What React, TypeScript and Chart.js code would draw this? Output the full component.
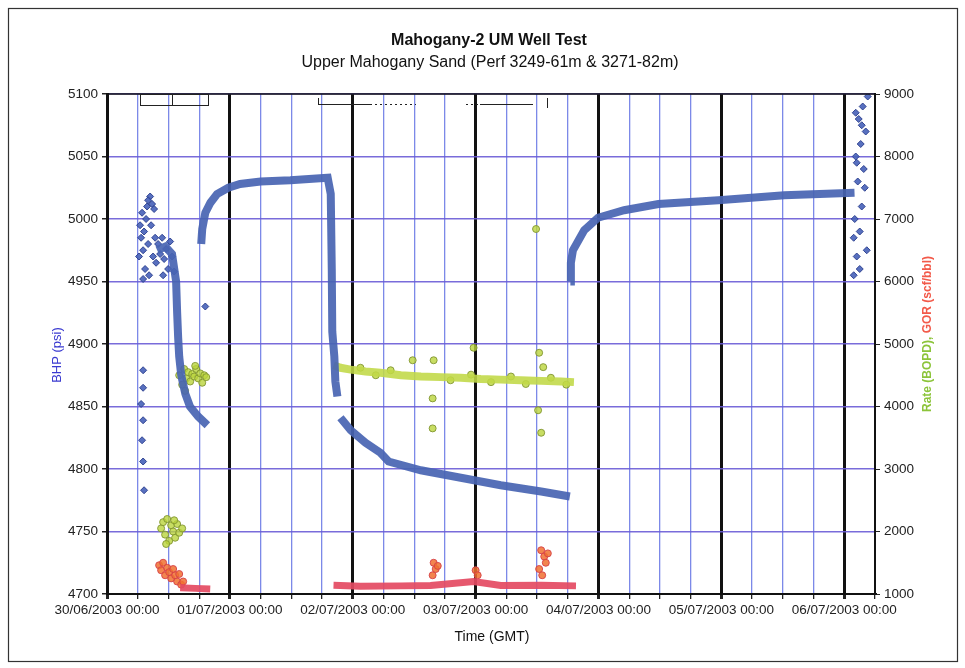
import React, { useEffect, useRef } from "react";
import { Chart, registerables } from "chart.js";

Chart.register(...registerables);

// Time axis: hours since 30/06/2003 00:00 (GMT)
const dayTickLabels = [
  "30/06/2003 00:00",
  "01/07/2003 00:00",
  "02/07/2003 00:00",
  "03/07/2003 00:00",
  "04/07/2003 00:00",
  "05/07/2003 00:00",
  "06/07/2003 00:00",
];

// Bottom-hole pressure trace (psi); null breaks the trace between periods
const bhpTrackHours = [
  9.8, 11.4, 12.7, 13.5, 13.7, 13.9, 14.1, 14.5, 15.3, 16.2, 17.8, 19.6, 19.7,
  18.4, 18.6, 19.2, 20.2, 21.5, 23.7, 26.0, 30.0, 35.8, 43.1, 43.7, 43.9, 44.0, 44.4, 44.6, 45.0, 45.1,
  45.6, 47.6, 50.5, 53.4, 55.0, 61.3, 69.1, 76.9, 84.8, 90.4, 90.45,
  90.5, 90.6, 91.0, 93.2, 95.9, 101.0, 107.7, 119.4, 132.3, 146.0,
];
const bhpTrackPsi = [
  4975, 4978, 4972, 4950, 4925, 4905, 4890, 4875, 4860, 4850, 4842, 4835, null,
  4980, 4992, 5005, 5013, 5020, 5025, 5028, 5030, 5031, 5033, 5020, 4960, 4910, 4890, 4870, 4858, null,
  4841, 4831, 4821, 4813, 4806, 4799, 4793, 4787, 4782, 4778, null,
  4950, 4965, 4975, 4991, 5001, 5007, 5012, 5015, 5019, 5021,
];

// Individual gauge readings (psi)
const bhpPointHours = [
  6.26, 6.46, 6.66, 6.85, 7.05, 7.24, 7.44, 7.63, 7.83, 8.03, 8.22, 8.42, 8.61, 8.81, 9.0, 9.2, 9.4, 9.59, 7.05, 8.03,
  9.98, 10.38, 10.77, 11.16, 11.55, 11.94, 12.33, 12.72, 13.12, 10.96,
  7.05, 7.05, 6.66, 7.05, 6.85, 7.05, 7.24,
  19.2,
  145.84, 146.43, 147.02, 146.04, 147.41, 146.63, 147.8, 146.24, 147.21, 148.19, 146.82, 147.6, 148.58, 145.84, 148.0, 146.43, 148.39, 147.02, 147.41, 146.24,
];
const bhpPointPsi = [
  4970, 4995, 4985, 5005, 4975, 4990, 4960, 5000, 5010, 4980, 4955, 5018, 4995, 5012, 4970, 5008, 4985, 4965, 4952, 5015,
  4980, 4972, 4985, 4968, 4976, 4960, 4982, 4970, 4958, 4955,
  4879, 4865, 4852, 4839, 4823, 4806, 4783,
  4930,
  4955, 4970, 4990, 5000, 5010, 5030, 5040, 5050, 5060, 5070, 5080, 5090, 5098, 4985, 5025, 5045, 4975, 4960, 5075, 5085,
];

// Oil rate (BOPD)
const rateTrackHours = [44.24, 45.6, 47.6, 50.5, 53.4, 57.4, 61.3, 65.2, 69.1, 73.0, 76.9, 80.8, 84.8, 88.7, 91.2];
const rateTrackBopd = [4660, 4620, 4590, 4560, 4540, 4500, 4480, 4470, 4460, 4440, 4430, 4420, 4410, 4400, 4390];

const ratePointHours = [
  10.57, 10.96, 11.35, 11.75, 12.14, 12.53, 12.92, 13.31, 13.7, 14.1, 14.68, 11.55, 13.12,
  14.1, 14.68, 15.07, 15.47, 15.86, 16.25, 16.64, 17.03, 17.42, 17.81, 18.21, 18.6, 18.99, 19.38, 15.27, 17.23,
  59.7, 63.8, 63.6, 63.6, 71.6, 84.4, 85.2, 84.2, 84.8, 83.8,
  49.5, 52.5, 55.4, 67.1, 71.1, 75.0, 78.9, 81.8, 86.7, 89.7,
];
const ratePointBopd = [
  2050, 2150, 1950, 2200, 1850, 2100, 2000, 1900, 2120, 1980, 2050, 1800, 2180,
  4500, 4350, 4600, 4450, 4550, 4400, 4520, 4480, 4600, 4450, 4530, 4380, 4500, 4470, 4250, 4650,
  4740, 4740, 4130, 3650, 4940, 4860, 4630, 3940, 3580, 6840,
  4620, 4500, 4580, 4420, 4510, 4390, 4480, 4360, 4460, 4350,
];

// Gas-oil ratio (scf/bbl)
const gorTrackHours = [14.29, 17.23, 20.16, null, 44.24, 49.5, 57.4, 63.2, 71.6, 76.9, 84.8, 91.6];
const gorTrackScf = [1100, 1090, 1080, null, 1140, 1125, 1130, 1135, 1200, 1135, 1140, 1130];

const gorPointHours = [
  10.18, 10.57, 10.96, 11.35, 11.75, 12.14, 12.53, 12.92, 13.31, 13.7, 14.1, 14.49, 14.88,
  63.6, 63.8, 64.2, 64.6, 72.0, 72.4, 84.4, 84.8, 85.0, 85.4, 85.7, 86.1,
];
const gorPointScf = [
  1460, 1380, 1500, 1300, 1420, 1350, 1250, 1400, 1300, 1200, 1320, 1150, 1200,
  1300, 1500, 1400, 1450, 1380, 1300, 1400, 1700, 1300, 1600, 1500, 1650,
];

const toXY = (xs: (number | null)[], ys: (number | null)[]) =>
  xs.map((x, i) => ({ x: x as number, y: ys[i] as number }));

const FONT = "'Liberation Sans', Arial, sans-serif";

const decorPlugin = {
  id: "decor",
  beforeDraw(chart: any) {
    const { ctx, width, height } = chart;
    ctx.save();
    ctx.fillStyle = "#ffffff";
    ctx.fillRect(0, 0, width, height);
    ctx.restore();
  },
  afterDraw(chart: any) {
    const { ctx, chartArea } = chart;
    const { left, right, top } = chartArea;
    ctx.save();

    // outer frame
    ctx.strokeStyle = "#333";
    ctx.lineWidth = 1.2;
    ctx.strokeRect(8.5, 8.5, 949, 653);

    // top edge of plot
    ctx.strokeStyle = "#111";
    ctx.lineWidth = 1.5;
    ctx.beginPath();
    ctx.moveTo(left, top);
    ctx.lineTo(right, top);
    ctx.stroke();

    // titles
    ctx.fillStyle = "#111";
    ctx.textAlign = "center";
    ctx.textBaseline = "middle";
    ctx.font = `bold 16px ${FONT}`;
    ctx.fillText("Mahogany-2 UM Well Test", 489, 41);
    ctx.font = `16px ${FONT}`;
    ctx.fillText("Upper Mahogany Sand (Perf 3249-61m & 3271-82m)", 490, 63);

    // x axis title
    ctx.font = `14px ${FONT}`;
    ctx.fillText("Time (GMT)", 492, 637);

    // left axis title
    ctx.save();
    ctx.translate(57, 355);
    ctx.rotate(-Math.PI / 2);
    ctx.fillStyle = "#3a3ad0";
    ctx.font = `13px ${FONT}`;
    ctx.fillText("BHP (psi)", 0, 0);
    ctx.restore();

    // right axis title, two colours
    ctx.save();
    ctx.translate(928, 334);
    ctx.rotate(-Math.PI / 2);
    ctx.font = `bold 12px ${FONT}`;
    ctx.textAlign = "left";
    const partA = "Rate (BOPD), ";
    const partB = "GOR (scf/bbl)";
    const wA = ctx.measureText(partA).width;
    const wB = ctx.measureText(partB).width;
    const start = -(wA + wB) / 2;
    ctx.fillStyle = "#8cc43a";
    ctx.fillText(partA, start, 0);
    ctx.fillStyle = "#f25a4a";
    ctx.fillText(partB, start + wA, 0);
    ctx.restore();

    // period marker boxes along the top of the plot
    ctx.strokeStyle = "#222";
    ctx.lineWidth = 1;
    ctx.strokeRect(140.5, 94.5, 32, 11);
    ctx.strokeRect(172.5, 94.5, 36, 11);
    ctx.beginPath();
    ctx.moveTo(318.5, 98);
    ctx.lineTo(318.5, 105);
    ctx.moveTo(319, 104.5);
    ctx.lineTo(372, 104.5);
    ctx.moveTo(480, 104.5);
    ctx.lineTo(533, 104.5);
    ctx.moveTo(547.5, 98);
    ctx.lineTo(547.5, 108);
    ctx.stroke();
    ctx.setLineDash([2, 3]);
    ctx.beginPath();
    ctx.moveTo(375, 104.5);
    ctx.lineTo(416, 104.5);
    ctx.moveTo(466, 104.5);
    ctx.lineTo(480, 104.5);
    ctx.stroke();
    ctx.restore();
  },
};

export default function App() {
  const canvasRef = useRef<HTMLCanvasElement | null>(null);

  useEffect(() => {
    const canvas = canvasRef.current;
    if (!canvas) return;
    const tickFont = { family: FONT, size: 13.5 };
    const plain = (v: any) => String(v);

    const chart = new Chart(canvas, {
      type: "scatter",
      data: {
        datasets: [
          {
            label: "GOR",
            data: toXY(gorTrackHours, gorTrackScf),
            yAxisID: "y1",
            showLine: true,
            spanGaps: false,
            borderColor: "rgba(228,74,98,0.92)",
            borderWidth: 7,
            pointRadius: 0,
          },
          {
            label: "GOR readings",
            data: toXY(gorPointHours, gorPointScf),
            yAxisID: "y1",
            pointRadius: 3.5,
            pointBackgroundColor: "rgba(240,112,48,0.85)",
            pointBorderColor: "rgba(214,64,72,0.9)",
            pointBorderWidth: 1,
          },
          {
            label: "BHP",
            data: toXY(bhpTrackHours, bhpTrackPsi),
            yAxisID: "y",
            showLine: true,
            spanGaps: false,
            borderColor: "rgba(72,100,178,0.92)",
            borderWidth: 8,
            pointRadius: 0,
          },
          {
            label: "BHP readings",
            data: toXY(bhpPointHours, bhpPointPsi),
            yAxisID: "y",
            pointStyle: "rectRot",
            pointRadius: 3.5,
            pointBackgroundColor: "rgba(70,96,184,0.9)",
            pointBorderColor: "rgba(40,60,140,0.9)",
            pointBorderWidth: 1,
          },
          {
            label: "Rate",
            data: toXY(rateTrackHours, rateTrackBopd),
            yAxisID: "y1",
            showLine: true,
            borderColor: "rgba(192,216,70,0.88)",
            borderWidth: 8,
            pointRadius: 0,
          },
          {
            label: "Rate readings",
            data: toXY(ratePointHours, ratePointBopd),
            yAxisID: "y1",
            pointRadius: 3.5,
            pointBackgroundColor: "rgba(186,212,60,0.8)",
            pointBorderColor: "rgba(130,150,50,0.9)",
            pointBorderWidth: 1,
          },
        ],
      },
      options: {
        responsive: false,
        animation: false,
        devicePixelRatio: 1,
        layout: { padding: { top: 94, left: 0, right: 0, bottom: 0 } },
        plugins: {
          legend: { display: false },
          title: { display: false },
          tooltip: { enabled: false },
        },
        scales: {
          x: {
            type: "linear",
            min: 0,
            max: 150,
            afterFit: (scale: any) => {
              scale.height = 74;
            },
            ticks: {
              stepSize: 6,
              autoSkip: false,
              maxRotation: 0,
              minRotation: 0,
              padding: 3,
              color: "#222",
              font: tickFont,
              callback: (v: any) => {
                const n = Number(v);
                return n % 24 === 0 ? dayTickLabels[n / 24] ?? "" : "";
              },
            },
            grid: {
              color: (c: any) => (c.tick && c.tick.value % 24 === 0 ? "#111" : "rgba(110,124,230,0.9)"),
              lineWidth: (c: any) => (c.tick && c.tick.value % 24 === 0 ? 3 : 1.3),
              tickLength: 5,
              tickColor: "#222",
            },
            border: { color: "#111", width: 2 },
          },
          y: {
            position: "left",
            min: 4700,
            max: 5100,
            afterFit: (scale: any) => {
              scale.width = 107;
            },
            ticks: { stepSize: 50, padding: 4, color: "#222", font: tickFont, callback: plain },
            grid: { color: "rgba(106,92,214,0.9)", lineWidth: 1.5, tickLength: 5, tickColor: "#222" },
            border: { color: "#111", width: 3 },
          },
          y1: {
            position: "right",
            min: 1000,
            max: 9000,
            afterFit: (scale: any) => {
              scale.width = 90;
            },
            ticks: { stepSize: 1000, padding: 4, color: "#222", font: tickFont, callback: plain },
            grid: { drawOnChartArea: false, tickLength: 5, tickColor: "#222" },
            border: { color: "#111", width: 2 },
          },
        },
      },
      plugins: [decorPlugin],
    } as any);

    return () => chart.destroy();
  }, []);

  return (
    <div style={{ position: "absolute", left: 0, top: 0, width: 965, height: 668 }}>
      <canvas ref={canvasRef} width={965} height={668} />
    </div>
  );
}
